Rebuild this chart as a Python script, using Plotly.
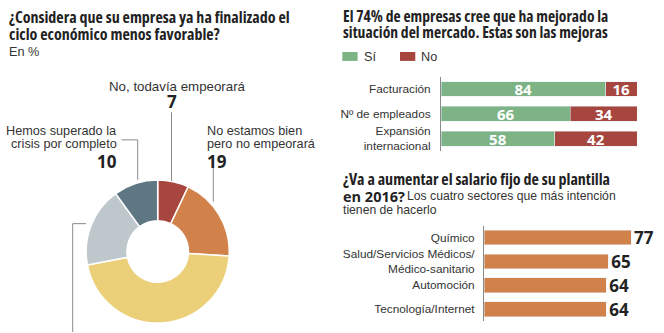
import plotly.graph_objects as go

# ---- data ----
ciclo_labels = ["No, todavía empeorará", "No estamos bien pero no empeorará",
                "Sí, aunque la mejora es lenta", "Sí, ya lo estamos notando",
                "Hemos superado la crisis por completo"]
ciclo_values = [7, 19, 46, 18, 10]
ciclo_colors = ["#a6463f", "#d1824a", "#ebd079", "#bdc7cc", "#5f7683"]

mejoras_cats = ["Facturación", "Nº de empleados", "Expansión<br>internacional"]
mejoras_si = [84, 66, 58]
mejoras_no = [16, 34, 42]

sector_cats = ["Químico", "Salud/Servicios Médicos/<br>Médico-sanitario",
               "Automoción", "Tecnología/Internet"]
sector_vals = [77, 65, 64, 64]

# ---- styling ----
W, H = 664, 333
COND = "Open Sans"
REG = "Liberation Sans, Arial, sans-serif"
DARK = "#222222"
TXT = "#333333"
GREEN = "#7db385"
RED = "#a6463f"
ORANGE = "#d1824a"
LINE = "#8a8a8a"
TITLE_STRETCH = 75
NUM_STRETCH = 88


def cond(s, stretch=TITLE_STRETCH):
    return '<span style="font-stretch:%d%%">%s</span>' % (stretch, s)


def px(x):
    return x / W


def py(y):
    return 1 - y / H


fig = go.Figure()

# donut
fig.add_trace(go.Pie(
    labels=ciclo_labels, values=ciclo_values, sort=False, direction="clockwise",
    rotation=0, hole=0.43, textinfo="none", hoverinfo="label+value",
    marker=dict(colors=ciclo_colors, line=dict(color="white", width=1.5)),
    domain=dict(x=[px(157.7 - 72), px(157.7 + 72)], y=[py(253 + 72), py(253 - 72)]),
    showlegend=False,
))

# stacked bars: mejoras
for vals, col, nm in [(mejoras_si, GREEN, "Sí"), (mejoras_no, RED, "No")]:
    fig.add_trace(go.Bar(
        y=mejoras_cats, x=vals, orientation="h", marker_color=col, width=0.6,
        text=[cond(str(v), NUM_STRETCH) for v in vals], textposition="inside",
        insidetextanchor="middle", textangle=0, constraintext="none",
        textfont=dict(family=COND, size=15, color="white", weight="bold"),
        xaxis="x2", yaxis="y2", showlegend=False, name=nm,
    ))

# sector bars
fig.add_trace(go.Bar(
    y=sector_cats, x=sector_vals, orientation="h", marker_color=ORANGE, width=0.62,
    text=[cond(str(v), NUM_STRETCH) for v in sector_vals], textposition="outside",
    textangle=0, constraintext="none", cliponaxis=False,
    textfont=dict(family=COND, size=17, color=DARK, weight="bold"),
    xaxis="x3", yaxis="y3", showlegend=False,
))

tickfont = dict(family=REG, size=11.8, color=TXT)
fig.update_layout(
    width=W, height=H, margin=dict(l=0, r=0, t=0, b=0),
    paper_bgcolor="white", plot_bgcolor="white", barmode="stack",
    xaxis2=dict(domain=[px(441), px(637)], range=[0, 100], visible=False, anchor="y2"),
    yaxis2=dict(domain=[py(152), py(77)], anchor="x2", autorange="reversed",
                showline=True, linecolor=LINE, linewidth=1, ticks="",
                ticklabelstandoff=7, tickfont=tickfont, showgrid=False),
    xaxis3=dict(domain=[px(484), px(636.8)], range=[0, 80], visible=False, anchor="y3"),
    yaxis3=dict(domain=[py(323), py(227)], anchor="x3", autorange="reversed",
                showline=True, linecolor=LINE, linewidth=1, ticks="",
                ticklabelstandoff=6, tickfont=tickfont, showgrid=False),
)

ann = []


def text(x, y, s, anchor="left", size=12.7, color=TXT, stretch=None):
    family = REG
    weight = "normal"
    if stretch is not None:
        s = cond(s, stretch)
        family = COND
        weight = "bold"
    ann.append(dict(
        x=px(x), y=py(y), xref="paper", yref="paper", text=s, showarrow=False,
        xanchor=anchor, yanchor="middle",
        font=dict(family=family, size=size, color=color, weight=weight),
    ))


# left block titles
text(7, 17.5, "¿Considera que su empresa ya ha finalizado el", size=16, color=DARK, stretch=TITLE_STRETCH)
text(7, 34, "ciclo económico menos favorable?", size=16, color=DARK, stretch=TITLE_STRETCH)
text(7, 52.5, "En %", size=12.7)

# donut labels
text(177, 87.5, ciclo_labels[0], anchor="center", size=13.3)
text(171.5, 102, str(ciclo_values[0]), anchor="center", size=17, color=DARK, stretch=NUM_STRETCH)
text(119, 131.3, "Hemos superado la", anchor="right")
text(119, 144.7, "crisis por completo", anchor="right")
text(119, 162, str(ciclo_values[4]), anchor="right", size=17, color=DARK, stretch=NUM_STRETCH)
text(205, 131.3, "No estamos bien")
text(205, 144.7, "pero no empeorará")
text(205, 162, str(ciclo_values[1]), size=17, color=DARK, stretch=NUM_STRETCH)

# right block titles
text(341, 16.5, "El 74% de empresas cree que ha mejorado la", size=15.6, color=DARK, stretch=TITLE_STRETCH)
text(341, 32.5, "situación del mercado. Estas son las mejoras", size=15.6, color=DARK, stretch=TITLE_STRETCH)
text(362, 57, "Sí", size=12.7)
text(419, 57, "No", size=12.7)

text(341, 180.5, "¿Va a aumentar el salario fijo de su plantilla", size=16, color=DARK, stretch=TITLE_STRETCH)
text(341, 197.5, "en 2016?", size=14.5, color=DARK, stretch=NUM_STRETCH)
text(405, 197.5, "Los cuatro sectores que más intención", size=12.2)
text(341, 211.5, "tienen de hacerlo", size=12.2)

fig.update_layout(annotations=ann)

# leader lines and legend keys
shapes = []


def seg(x0, y0, x1, y1):
    shapes.append(dict(type="line", xref="paper", yref="paper",
                       x0=px(x0), y0=py(y0), x1=px(x1), y1=py(y1),
                       line=dict(color=LINE, width=1)))


seg(171.5, 113, 171.5, 182)
seg(213.3, 168, 213.3, 203)
seg(121.5, 140.7, 137.7, 140.7)
seg(137.7, 140.7, 137.7, 181)
seg(72.7, 225, 86, 225)
seg(72.7, 225, 72.7, 334)

for x0, col in [(342.3, GREEN), (400, RED)]:
    shapes.append(dict(type="rect", xref="paper", yref="paper",
                       x0=px(x0), x1=px(x0 + 15.3), y0=py(61.3), y1=py(52.3),
                       fillcolor=col, line=dict(width=0)))

fig.update_layout(shapes=shapes)

fig.write_html("out.html")
